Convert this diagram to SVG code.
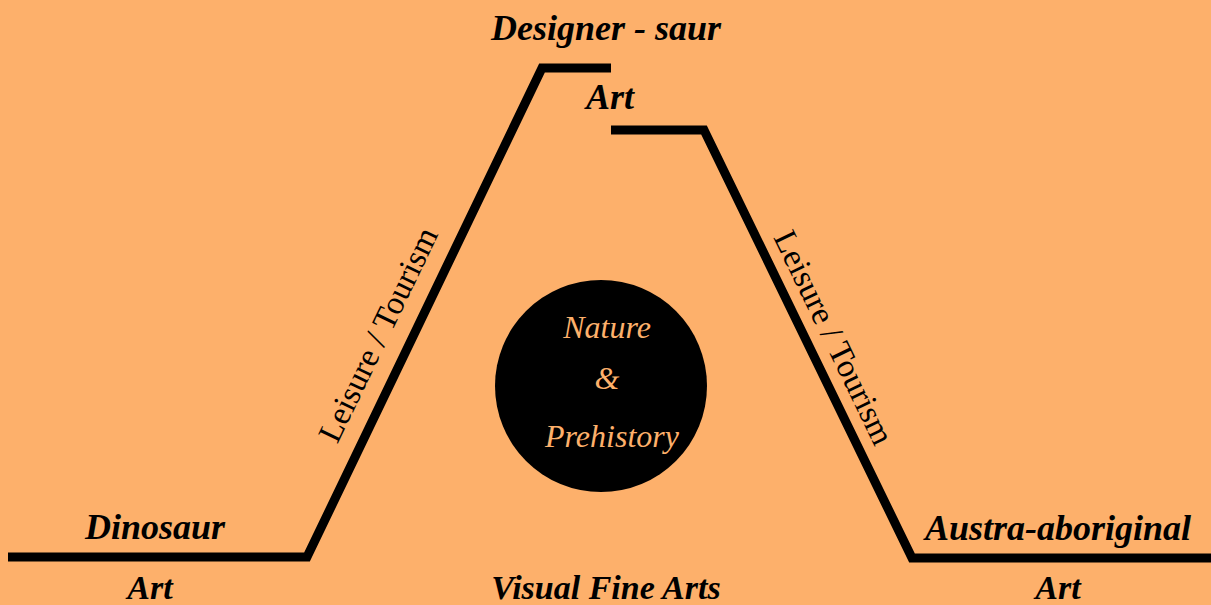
<svg xmlns="http://www.w3.org/2000/svg" width="1211" height="605" viewBox="0 0 1211 605">
<style>
.lbl{font-family:"Liberation Serif","DejaVu Serif",serif;font-weight:bold;font-style:italic;font-size:36px;fill:#000;text-anchor:middle}
.bot{font-size:34px}
.side{font-family:"Liberation Serif","DejaVu Serif",serif;font-size:33px;fill:#000;text-anchor:middle}
.inner{font-family:"Liberation Serif","DejaVu Serif",serif;font-style:italic;font-size:32px;fill:#FDB06B;text-anchor:middle}
.ln{fill:none;stroke:#000;stroke-width:9;stroke-linejoin:miter}
</style>
<rect width="1211" height="605" fill="#FDB06B"/>
<g id="connectors">
<polyline class="ln" points="8,557 307,557 542,68 611,68"/>
<polyline class="ln" points="611,130 704,130 912,558 1211,558"/>
<text class="side" transform="translate(379,335) rotate(-64.3)" y="10">Leisure / Tourism</text>
<text class="side" transform="translate(833,338) rotate(64.1)" y="10">Leisure / Tourism</text>
</g>
<g id="designer-saur">
<text class="lbl" x="606" y="40">Designer - saur</text>
<text class="lbl" x="610" y="109">Art</text>
</g>
<g id="dinosaur">
<text class="lbl" x="155" y="539">Dinosaur</text>
<text class="lbl bot" x="150" y="599">Art</text>
</g>
<g id="austra-aboriginal">
<text class="lbl" x="1058" y="540">Austra-aboriginal</text>
<text class="lbl bot" x="1058" y="599">Art</text>
</g>
<g id="visual-fine-arts">
<text class="lbl bot" x="606" y="599">Visual Fine Arts</text>
</g>
<g id="nature-prehistory">
<circle cx="601" cy="386" r="106" fill="#000"/>
<text class="inner" x="607" y="338">Nature</text>
<text class="inner" x="607" y="389">&amp;</text>
<text class="inner" x="612" y="447">Prehistory</text>
</g>
</svg>
